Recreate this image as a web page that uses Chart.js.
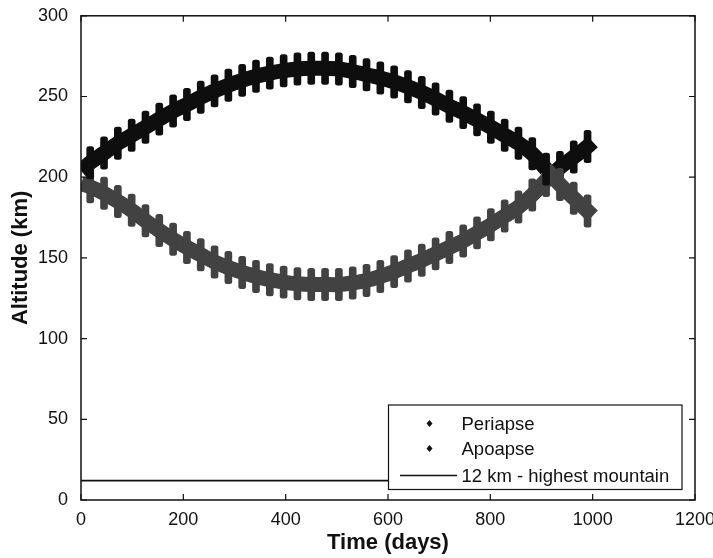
<!DOCTYPE html>
<html>
<head>
<meta charset="utf-8">
<script src="https://cdn.jsdelivr.net/npm/chart.js@4.4.1/dist/chart.umd.min.js"></script>
<style>
  html, body { margin: 0; padding: 0; background: #fff; }
  canvas { display: block; }
</style>
</head>
<body>
<canvas id="orbit" width="713" height="558"></canvas>
<script>
// values
const days = [0, 18, 45, 72, 99, 126, 153, 180, 207, 234, 261, 288, 315, 342, 369, 396, 423, 450, 477, 504,
  531, 558, 585, 612, 639, 666, 693, 720, 747, 774, 801, 828, 855, 882, 909, 936, 963, 990, 1000];
const periapse = [196, 194, 190, 185, 179.5, 173, 167, 161.5, 156.5, 152, 147.5, 144, 141, 138.5, 136.5, 135, 134, 133.5, 133.5, 133.5,
  134.5, 136, 138.5, 141.5, 145, 148.5, 152.5, 156.5, 160.5, 165.5, 170.5, 176, 181.5, 189, 198, 206, 212.5, 219, 222];
const apoapse = [204, 209, 215, 221, 226, 231, 236, 241, 245, 249.5, 253.5, 257, 260, 262.5, 264.5, 266, 267, 267.5, 267.5, 267,
  265.5, 263.5, 261.5, 259, 256, 252.5, 248.5, 244, 240, 235.5, 231, 226, 221, 214.5, 205, 195.5, 187, 179, 176];

// the short spikes of the scatter band, one per ~27 day cycle: [low, high]
const spikeDays = [18, 45, 72, 99, 126, 153, 180, 207, 234, 261, 288, 315, 342, 369, 396, 423, 450, 477, 504,
  531, 558, 585, 612, 639, 666, 693, 720, 747, 774, 801, 828, 855, 882, 909, 936, 963, 990];
const periapseSpikes = [[184, 204], [180, 200], [175, 195], [169.5, 189.5], [163, 183], [157, 177], [151.5, 171.5], [146.5, 166.5],
  [142, 162], [137.5, 157.5], [134, 154], [131, 151], [128.5, 148.5], [126.5, 146.5], [125, 145], [124, 144], [123.5, 143.5],
  [123.5, 143.5], [123.5, 143.5], [124.5, 144.5], [126, 146], [128.5, 148.5], [131.5, 151.5], [135, 155], [138.5, 158.5],
  [142.5, 162.5], [146.5, 166.5], [150.5, 170.5], [155.5, 175.5], [160.5, 180.5], [166, 186], [171.5, 191.5], [179, 199],
  [188, 208], [196, 216], [202.5, 222.5], [209, 229]];
const apoapseSpikes = [[199, 219], [205, 225], [211, 231], [216, 236], [221, 241], [226, 246], [231, 251], [235, 255],
  [239.5, 259.5], [243.5, 263.5], [247, 267], [250, 270], [252.5, 272.5], [254.5, 274.5], [256, 276], [257, 277], [257.5, 277.5],
  [257.5, 277.5], [257, 277], [255.5, 275.5], [253.5, 273.5], [251.5, 271.5], [249, 269], [246, 266], [242.5, 262.5],
  [238.5, 258.5], [234, 254], [230, 250], [225.5, 245.5], [221, 241], [216, 236], [211, 231], [204.5, 224.5],
  [195, 215], [185.5, 205.5], [177, 197], [169, 189]];

const crossDay = 920;            // where the two bands cross
const mountainDays = [0, 1000];
const mountainAlt = [12, 12];
const xTicks = [0, 200, 400, 600, 800, 1000, 1200];
const yTicks = [0, 50, 100, 150, 200, 250, 300];

const FONT = 'Liberation Sans, Arial, Helvetica, sans-serif';
const INK = '#111111';
const APO = '#0e0e0e';
const PERI = '#424242';

const pts = (xs, ys) => xs.map((x, i) => ({ x: x, y: ys[i] }));
const after = (ctx) => ctx.raw && ctx.raw.x > crossDay;

// inward ticks, box frame and the legend, matlab style
const framePlugin = {
  id: 'frame',
  afterDraw(chart) {
    const { ctx, chartArea: a, scales } = chart;
    ctx.save();
    ctx.strokeStyle = INK;
    ctx.lineWidth = 1.5;
    ctx.strokeRect(a.left, a.top, a.right - a.left, a.bottom - a.top);
    ctx.lineWidth = 1.2;
    ctx.beginPath();
    xTicks.forEach(v => {
      const px = scales.x.getPixelForValue(v);
      ctx.moveTo(px, a.bottom); ctx.lineTo(px, a.bottom - 6);
      ctx.moveTo(px, a.top); ctx.lineTo(px, a.top + 6);
    });
    yTicks.forEach(v => {
      const py = scales.y.getPixelForValue(v);
      ctx.moveTo(a.left, py); ctx.lineTo(a.left + 6, py);
      ctx.moveTo(a.right, py); ctx.lineTo(a.right - 6, py);
    });
    ctx.stroke();

    // legend box
    const bx = 388.5, by = 405, bw = 293.5, bh = 84.5;
    ctx.fillStyle = '#fff';
    ctx.fillRect(bx, by, bw, bh);
    ctx.lineWidth = 1.2;
    ctx.strokeRect(bx, by, bw, bh);
    ctx.font = '18.5px ' + FONT;
    ctx.fillStyle = INK;
    ctx.textBaseline = 'middle';
    const rows = [
      { label: 'Periapse', y: 423.5, kind: 'dot' },
      { label: 'Apoapse', y: 448.5, kind: 'dot' },
      { label: '12 km - highest mountain', y: 475.5, kind: 'line' }
    ];
    rows.forEach(r => {
      if (r.kind === 'dot') {
        ctx.beginPath();
        ctx.moveTo(429.5, r.y - 3.5);
        ctx.lineTo(432.5, r.y);
        ctx.lineTo(429.5, r.y + 3.5);
        ctx.lineTo(426.5, r.y);
        ctx.closePath();
        ctx.fill();
      } else {
        ctx.beginPath();
        ctx.lineWidth = 1.6;
        ctx.moveTo(400, r.y);
        ctx.lineTo(457, r.y);
        ctx.stroke();
      }
      ctx.fillText(r.label, 461.5, r.y + 1);
    });
    ctx.restore();
  }
};

const spikeStyle = { type: 'bar', barThickness: 7, borderRadius: 2.5, borderSkipped: false, grouped: false };
const bandStyle = { borderWidth: 15, pointRadius: 0, tension: 0.35, clip: 0, borderJoinStyle: 'round' };

new Chart(document.getElementById('orbit'), {
  type: 'line',
  data: {
    datasets: [
      {
        label: '12 km - highest mountain',
        data: pts(mountainDays, mountainAlt),
        borderColor: INK,
        borderWidth: 1.6,
        pointRadius: 0,
        tension: 0
      },
      Object.assign({
        label: 'Apoapse spikes',
        data: pts(spikeDays, apoapseSpikes),
        backgroundColor: c => after(c) ? PERI : APO
      }, spikeStyle),
      Object.assign({
        label: 'Apoapse',
        data: pts(days, apoapse),
        borderColor: APO,
        segment: { borderColor: c => c.p1.parsed.x > crossDay ? PERI : APO }
      }, bandStyle),
      Object.assign({
        label: 'Periapse spikes',
        data: pts(spikeDays, periapseSpikes),
        backgroundColor: c => after(c) ? APO : PERI
      }, spikeStyle),
      Object.assign({
        label: 'Periapse',
        data: pts(days, periapse),
        borderColor: PERI,
        segment: { borderColor: c => c.p1.parsed.x > crossDay ? APO : PERI }
      }, bandStyle)
    ]
  },
  options: {
    responsive: false,
    devicePixelRatio: 1,
    animation: false,
    layout: { padding: { left: 0, right: 18, top: 13, bottom: 0 } },
    plugins: { legend: { display: false }, tooltip: { enabled: false } },
    scales: {
      x: {
        type: 'linear',
        min: 0, max: 1200,
        offset: false,
        afterBuildTicks: s => { s.ticks = xTicks.map(v => ({ value: v })); },
        afterFit: s => { s.height = 58; s.paddingLeft = 0; s.paddingRight = 0; },
        grid: { display: false },
        border: { display: false },
        ticks: { color: INK, font: { family: FONT, size: 18 }, padding: 1, maxRotation: 0, autoSkip: false, callback: v => String(v) },
        title: { display: true, text: 'Time (days)', color: INK, font: { family: FONT, size: 22, weight: 'bold' }, padding: { top: 0, bottom: 2 } }
      },
      y: {
        type: 'linear',
        min: 0, max: 300,
        afterBuildTicks: s => { s.ticks = yTicks.map(v => ({ value: v })); },
        afterFit: s => { s.width = 81; },
        grid: { display: false },
        border: { display: false },
        ticks: { color: INK, font: { family: FONT, size: 18 }, padding: 5, callback: v => String(v) },
        title: { display: true, text: 'Altitude (km)', color: INK, font: { family: FONT, size: 22, weight: 'bold' }, padding: { top: 8, bottom: 0 } }
      }
    }
  },
  plugins: [framePlugin]
});
</script>
</body>
</html>
